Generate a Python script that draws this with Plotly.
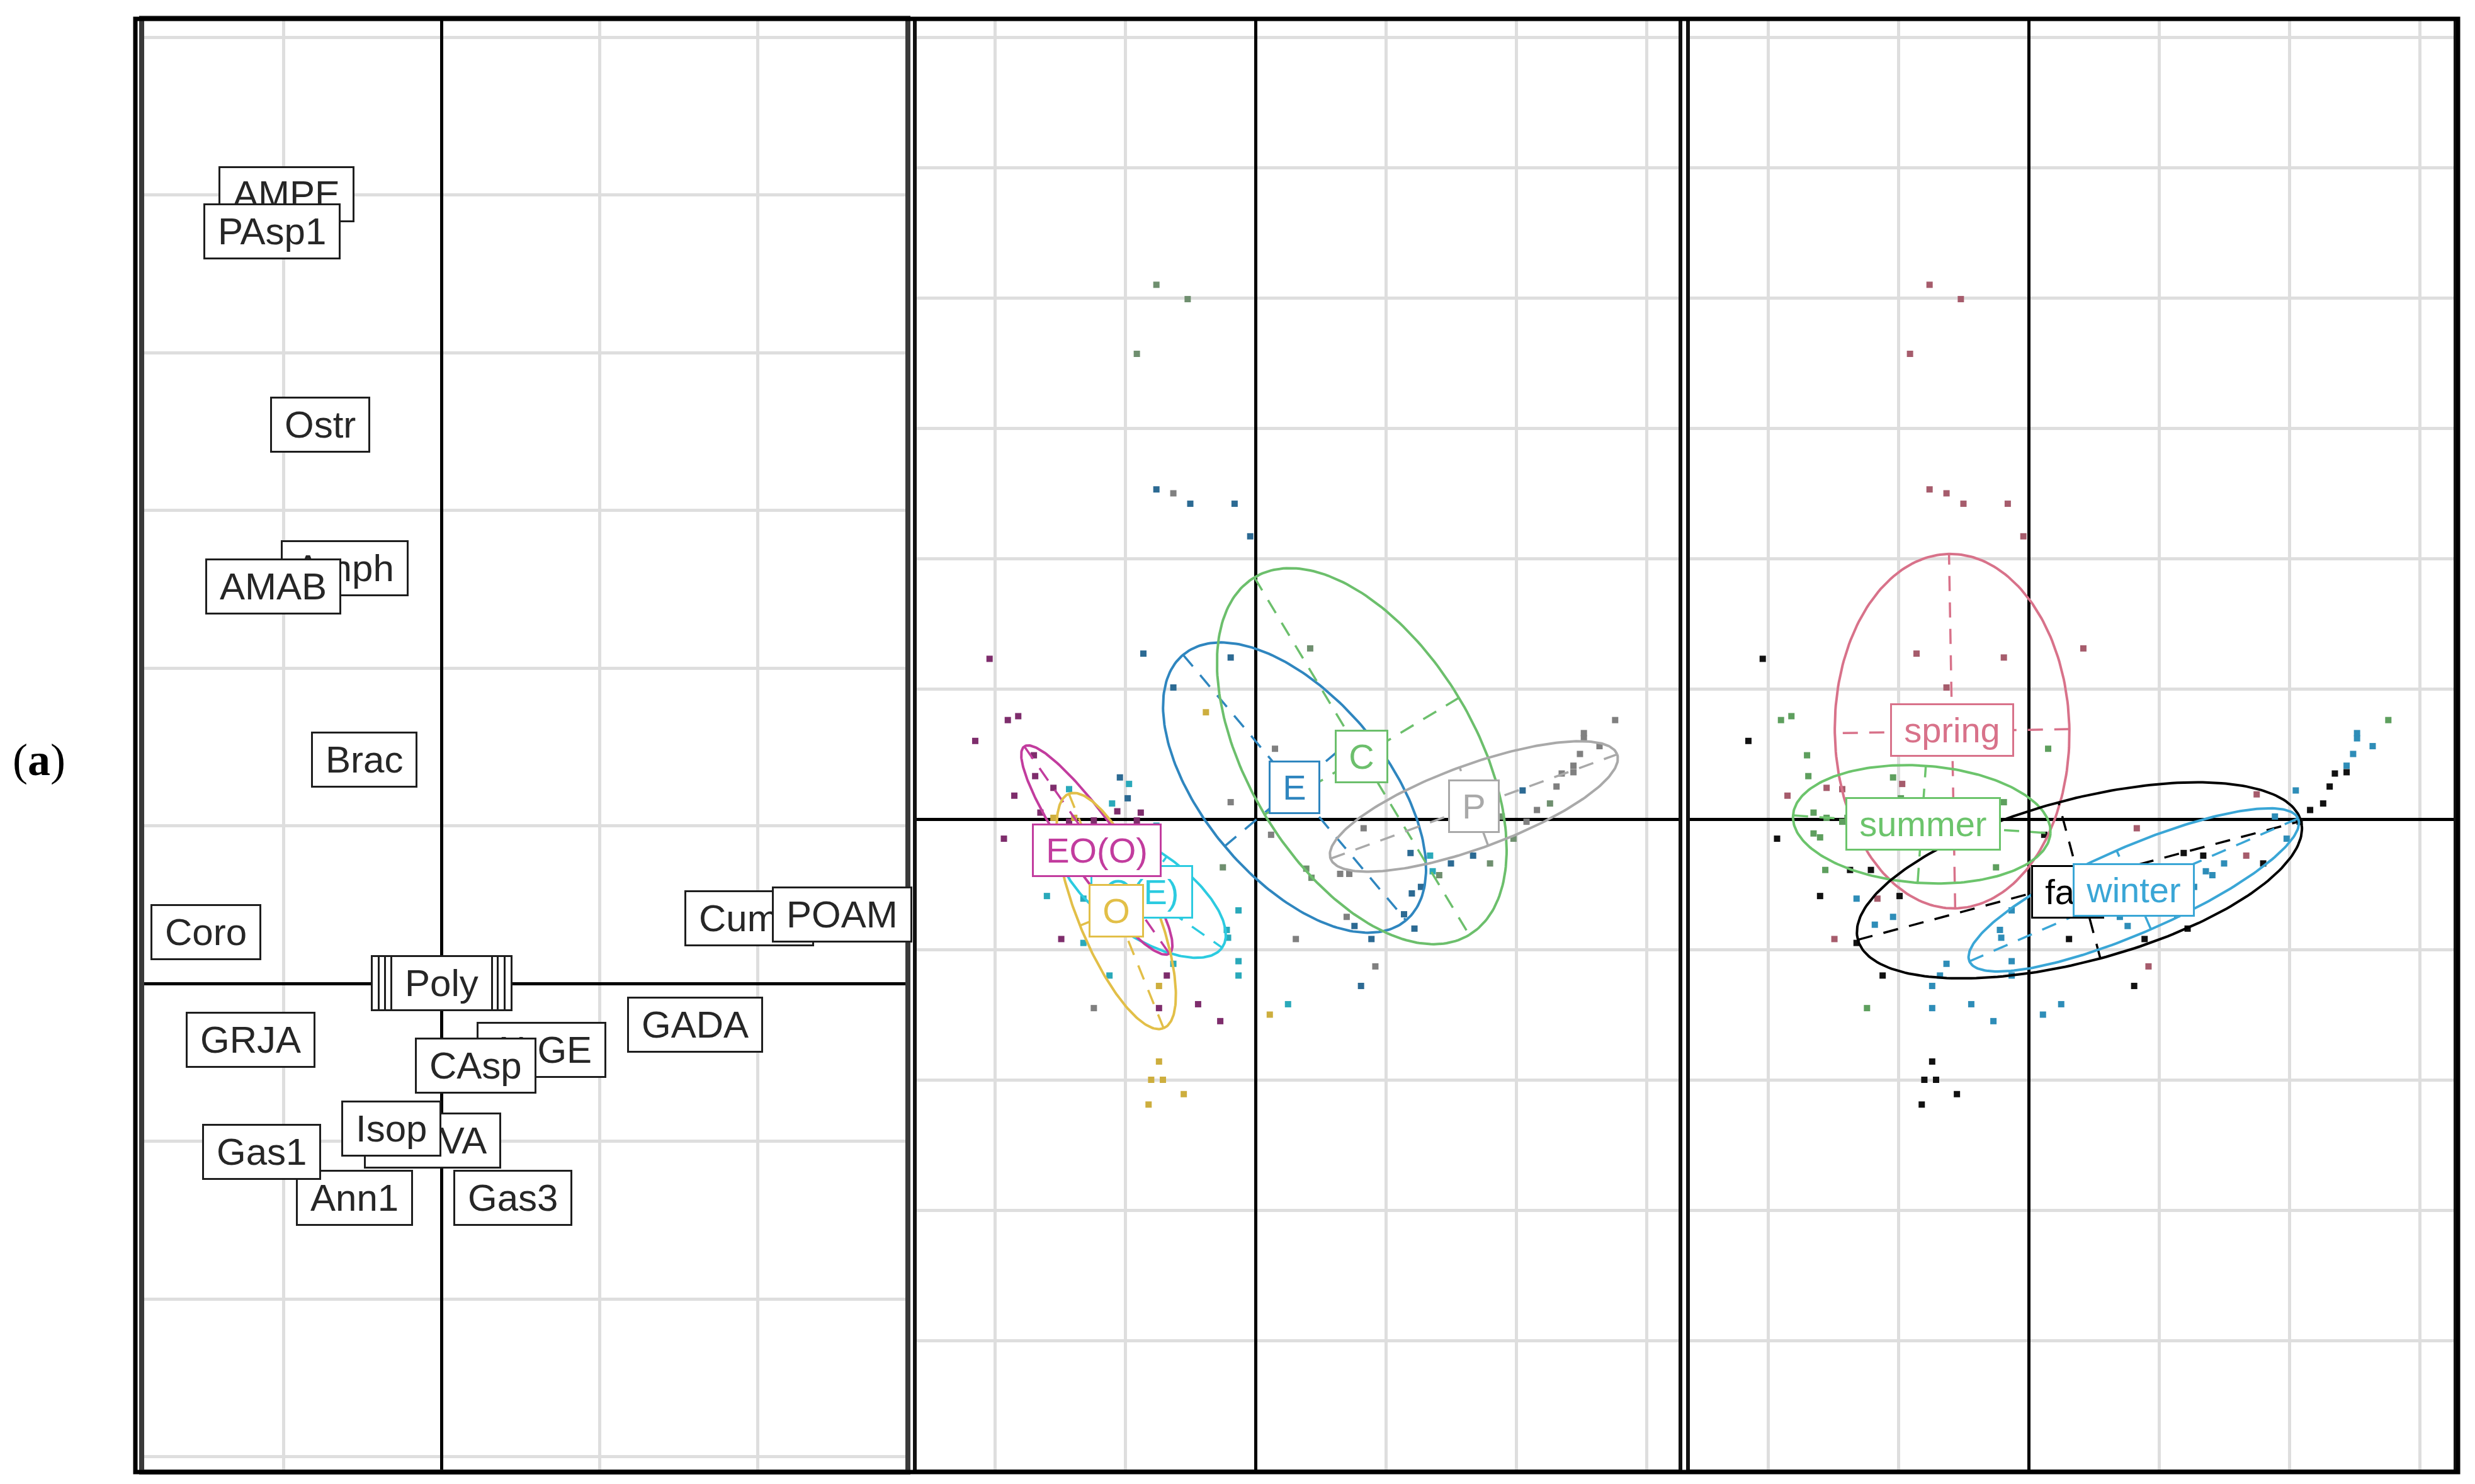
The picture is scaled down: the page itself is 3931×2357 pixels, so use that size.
import numpy as np
import plotly.graph_objects as go

W, H = 3931, 2357

# ---------------- DATA ----------------
# Left panel: species labels (grid units, origin at axes cross)
SPECIES = ["AMPE", "PAsp1", "Ostr", "Amph", "AMAB", "Brac", "Coro", "Cuma", "POAM",
           "Poly", "GRJA", "ALGE", "CAsp", "GADA", "MOVA", "Isop", "Ann1", "Gas1", "Gas3"]
SPECIES_X = [-0.980, -1.072, -0.765, -0.610, -1.064, -0.490, -1.490, 1.948, 2.534,
             0.000, -1.207, 0.633, 0.219, 1.606, -0.056, -0.315, -0.550, -1.139, 0.454]
SPECIES_Y = [5.006, 4.770, 3.541, 2.631, 2.515, 1.421, 0.327, 0.415, 0.439,
             0.004, -0.359, -0.423, -0.519, -0.263, -0.994, -0.922, -1.361, -1.066, -1.361]

# Sites (shared by middle and right panels)
SITE_X = [-1.82, -1.90, -2.15, -1.85, -1.93, -1.69, -1.70, -1.55, -1.43, -1.04,
          -0.97, -0.98, -1.10, -0.88, -1.06, -1.55, -1.39, -1.24, -1.43, -0.91,
          -0.76, -1.65, -1.65, -1.60, -1.56, -1.37, -1.21, -0.38, -0.63, -0.19,
          -1.60, -1.32, -1.16, -0.99, -1.18, -1.04, -1.49, -1.32, -1.12, -1.24,
          -0.68, -0.74, -0.63, -0.74, -0.44, -0.27, 0.11, 0.25, -0.22, -0.21,
          -0.13, -0.13, -0.13, -0.25, 0.12, 0.31, 0.70, 0.89, 1.22, 1.20,
          1.19, 0.43, 0.39, 0.15, 0.65, 0.72, -0.74, -0.80, -0.71, -0.55,
          -0.82, 0.81, 1.14, 1.27, 1.34, 1.36, 1.41, 1.50, 1.67, 1.80,
          1.98, 1.89, 2.08, 2.05, 2.16, 2.26, 2.31, 2.35, 2.44, 2.44,
          2.49, 2.64, 2.52, 2.52, 2.76, 0.42, -0.19, -0.86, 0.83, 1.75,
          0.92, 0.76, -0.76, -0.52, -0.91, -0.76, -0.63, -0.50, -0.16, -0.04,
          -2.04]
SITE_Y = [0.79, 0.76, 0.60, 0.18, -0.15, 0.33, 0.49, 0.24, 0.23, 0.32,
          0.27, 0.16, 0.12, 0.05, 0.06, 0.01, 0.01, -0.01, -0.02, -0.01,
          -0.05, 0.05, -0.11, -0.14, -0.39, -0.39, -0.39, 0.82, 1.01, 0.13,
          -0.59, -0.61, -0.61, -0.59, -0.81, -0.75, -0.92, -0.95, -1.20, -1.45,
          -1.20, -1.28, -1.11, -1.45, -1.42, -1.55, -1.50, -1.42, -0.85, -0.91,
          -0.70, -1.09, -1.20, -0.37, -0.12, -0.92, -0.75, -0.92, -0.84, -0.57,
          -0.26, -0.45, -0.38, 0.54, -0.42, -0.42, -1.86, -2.00, -2.00, -2.11,
          -2.19, -1.28, -0.73, -0.52, -0.28, -0.40, -0.43, -0.34, -0.28, -0.34,
          -0.15, 0.02, -0.02, 0.22, 0.07, 0.12, 0.25, 0.35, 0.36, 0.41,
          0.50, 0.56, 0.62, 0.66, 0.76, 1.31, 1.24, 1.27, -0.07, 0.19,
          -1.13, -0.82, 4.10, 3.99, 3.57, 2.53, 2.50, 2.42, 2.42, 2.17,
          1.23]
SITE_HAB = ["EO(O)", "EO(O)", "EO(O)", "EO(O)", "EO(O)", "EO(O)", "EO(O)", "EO(O)", "O(E)", "E",
            "O(E)", "E", "O(E)", "EO(O)", "EO(O)", "O", "O", "EO(O)", "EO(O)", "EO(O)",
            "O(E)", "EO(O)", "EO(O)", "EO(O)", "EO(O)", "EO(O)", "EO(O)", "O", "E", "P",
            "O(E)", "O(E)", "O", "O", "O", "O", "EO(O)", "O(E)", "O(E)", "P",
            "EO(O)", "O", "O(E)", "EO(O)", "EO(O)", "EO(O)", "O", "O(E)", "O(E)", "O(E)",
            "O(E)", "O(E)", "O(E)", "C", "P", "P", "P", "E", "E", "E",
            "E", "C", "C", "P", "P", "P", "O", "O", "O", "O",
            "O", "E", "E", "E", "O(E)", "O(E)", "C", "E", "E", "C",
            "C", "C", "P", "E", "P", "C", "P", "P", "P", "P",
            "P", "P", "P", "P", "P", "C", "E", "E", "P", "P",
            "P", "E", "C", "C", "C", "E", "P", "E", "E", "E",
            "EO(O)"]
SITE_SEASON = ["summer", "summer", "fall", "spring", "fall", "summer", "summer", "spring", "spring", "summer",
               "spring", "summer", "summer", "summer", "summer", "summer", "summer", "summer", "summer", "summer",
               "summer", "summer", "summer", "summer", "summer", "fall", "fall", "spring", "spring", "summer",
               "fall", "winter", "spring", "fall", "winter", "winter", "spring", "fall", "fall", "summer",
               "winter", "winter", "winter", "winter", "winter", "winter", "winter", "winter", "winter", "winter",
               "winter", "winter", "winter", "summer", "fall", "fall", "winter", "fall", "fall", "winter",
               "fall", "winter", "fall", "summer", "winter", "winter", "fall", "fall", "fall", "fall",
               "fall", "fall", "winter", "winter", "fall", "winter", "winter", "winter", "spring", "fall",
               "winter", "winter", "fall", "winter", "fall", "fall", "fall", "fall", "fall", "winter",
               "winter", "winter", "winter", "winter", "summer", "spring", "spring", "spring", "spring", "spring",
               "spring", "winter", "spring", "spring", "spring", "spring", "spring", "spring", "spring", "spring",
               "fall"]

# Habitat groups (middle panel), in drawing order
HABITATS = ["O(E)", "EO(O)", "O", "E", "C", "P"]
HAB_CX = [-0.87, -1.217, -1.068, 0.30, 0.816, 1.676]
HAB_CY = [-0.556, -0.237, -0.705, 0.242, 0.483, 0.097]
HAB_A = [0.75, 0.97, 0.97, 1.33, 1.60, 1.17]
HAB_B = [0.33, 0.20, 0.30, 0.70, 0.87, 0.32]
HAB_ANGLE = [-35, -55, -68, -50, -59, 20]
HAB_LABEL_X = [-0.87, -1.217, -1.068, 0.300, 0.816, 1.676]
HAB_LABEL_Y = [-0.556, -0.237, -0.705, 0.242, 0.483, 0.097]

# Season groups (right panel)
SEASONS = ["spring", "summer", "fall", "winter"]
SEA_CX = [-0.587, -0.82, 0.39, 0.807]
SEA_CY = [0.675, -0.04, -0.47, -0.543]
SEA_A = [1.36, 0.99, 1.76, 1.375]
SEA_B = [0.90, 0.45, 0.62, 0.33]
SEA_ANGLE = [91, -4, 15, 23.5]
SEA_LABEL_X = [-0.587, -0.807, 0.30, 0.807]
SEA_LABEL_Y = [0.684, -0.036, -0.556, -0.543]

# ---------------- STYLE ----------------
HAB_LINE = {"C": "#6CBF6C", "E": "#2F86BF", "EO(O)": "#C23C9E", "O": "#E2BF48",
            "O(E)": "#2CCBE0", "P": "#A9A9A9"}
HAB_PT = {"C": "#6F8F6F", "E": "#2C6A93", "EO(O)": "#7E2D6C", "O": "#CDAE3E",
          "O(E)": "#2AA9BA", "P": "#808080"}
SEA_LINE = {"spring": "#D8728A", "summer": "#6CC46C", "fall": "#000000", "winter": "#3AA6D6"}
SEA_PT = {"spring": "#A65C6C", "summer": "#5E9F5E", "fall": "#111111", "winter": "#2E8DB8"}

GRID = "#DEDEDE"
FONT = "Liberation Sans, Arial, sans-serif"
TS = "\u2009"


def px2paper_x(p):
    return p / W


def px2paper_y(p):
    return 1 - p / H


def ellipse_xy(cx, cy, a, b, ang):
    t = np.linspace(0, 2 * np.pi, 241)
    th = np.radians(ang)
    x = cx + a * np.cos(t) * np.cos(th) - b * np.sin(t) * np.sin(th)
    y = cy + a * np.cos(t) * np.sin(th) + b * np.sin(t) * np.cos(th)
    return x, y


def axes_xy(cx, cy, a, b, ang):
    th = np.radians(ang)
    ux, uy = np.cos(th), np.sin(th)
    vx, vy = -np.sin(th), np.cos(th)
    xs = [cx - a * ux, cx + a * ux, None, cx - b * vx, cx + b * vx]
    ys = [cy - a * uy, cy + a * uy, None, cy - b * vy, cy + b * vy]
    return xs, ys


fig = go.Figure()

# ---- middle panel: sites by habitat ----
for h in HABITATS:
    xs = [x for x, g in zip(SITE_X, SITE_HAB) if g == h]
    ys = [y for y, g in zip(SITE_Y, SITE_HAB) if g == h]
    fig.add_trace(go.Scatter(x=xs, y=ys, mode="markers", xaxis="x2", yaxis="y2",
                             marker=dict(symbol="square", size=10, color=HAB_PT[h], line=dict(width=0)),
                             showlegend=False, hoverinfo="skip"))
for i, h in enumerate(HABITATS):
    ex, ey = ellipse_xy(HAB_CX[i], HAB_CY[i], HAB_A[i], HAB_B[i], HAB_ANGLE[i])
    fig.add_trace(go.Scatter(x=ex, y=ey, mode="lines", xaxis="x2", yaxis="y2",
                             line=dict(color=HAB_LINE[h], width=4), showlegend=False, hoverinfo="skip"))
    ax_, ay_ = axes_xy(HAB_CX[i], HAB_CY[i], HAB_A[i], HAB_B[i], HAB_ANGLE[i])
    fig.add_trace(go.Scatter(x=ax_, y=ay_, mode="lines", xaxis="x2", yaxis="y2",
                             line=dict(color=HAB_LINE[h], width=3.5, dash="24px,18px"),
                             showlegend=False, hoverinfo="skip"))

# ---- right panel: sites by season ----
for s in SEASONS:
    xs = [x for x, g in zip(SITE_X, SITE_SEASON) if g == s]
    ys = [y for y, g in zip(SITE_Y, SITE_SEASON) if g == s]
    fig.add_trace(go.Scatter(x=xs, y=ys, mode="markers", xaxis="x3", yaxis="y3",
                             marker=dict(symbol="square", size=10, color=SEA_PT[s], line=dict(width=0)),
                             showlegend=False, hoverinfo="skip"))
for i, s in enumerate(SEASONS):
    ex, ey = ellipse_xy(SEA_CX[i], SEA_CY[i], SEA_A[i], SEA_B[i], SEA_ANGLE[i])
    fig.add_trace(go.Scatter(x=ex, y=ey, mode="lines", xaxis="x3", yaxis="y3",
                             line=dict(color=SEA_LINE[s], width=4), showlegend=False, hoverinfo="skip"))
    ax_, ay_ = axes_xy(SEA_CX[i], SEA_CY[i], SEA_A[i], SEA_B[i], SEA_ANGLE[i])
    fig.add_trace(go.Scatter(x=ax_, y=ay_, mode="lines", xaxis="x3", yaxis="y3",
                             line=dict(color=SEA_LINE[s], width=3.5, dash="24px,18px"),
                             showlegend=False, hoverinfo="skip"))

# ---------------- annotations ----------------
ann = []


def box(text, x, y, xref, yref, color, size, textcolor=None, width=None, pad=8, bw=3):
    d = dict(text=TS + text + TS, x=x, y=y, xref=xref, yref=yref, showarrow=False,
             font=dict(family=FONT, size=size, color=textcolor or color),
             bgcolor="white", bordercolor=color, borderwidth=bw, borderpad=pad,
             xanchor="center", yanchor="middle")
    if width is not None:
        d["width"] = width
    return d


LEFT_TXT = "#262626"
LEFT_BOX = "#1E1E1E"
for name, x, y in zip(SPECIES, SPECIES_X, SPECIES_Y):
    if name == "Poly":
        # several labels stacked at the origin beneath "Poly"
        for wdt in (203, 181, 160):
            ann.append(box("", x, y, "x", "y", LEFT_BOX, 60, LEFT_TXT, width=wdt))
    ann.append(box(name, x, y, "x", "y", LEFT_BOX, 60, LEFT_TXT))

for i, h in enumerate(HABITATS):
    ann.append(box(h, HAB_LABEL_X[i], HAB_LABEL_Y[i], "x2", "y2", HAB_LINE[h], 56))

for i, s in enumerate(SEASONS):
    ann.append(box(s, SEA_LABEL_X[i], SEA_LABEL_Y[i], "x3", "y3", SEA_LINE[s], 56))

ann.append(dict(text="(<b>a</b>)", x=px2paper_x(62), y=px2paper_y(1207), xref="paper", yref="paper",
                showarrow=False, xanchor="center", yanchor="middle",
                font=dict(family="Liberation Serif, Times New Roman, serif", size=72, color="black")))


def axis(dom_px, origin_px, unit_px, anchor, lc, lw, vertical=False):
    a0, a1 = dom_px
    if vertical:
        dom = [px2paper_y(a1), px2paper_y(a0)]
        rng = [(origin_px - a1) / unit_px, (origin_px - a0) / unit_px]
    else:
        dom = [px2paper_x(a0), px2paper_x(a1)]
        rng = [(a0 - origin_px) / unit_px, (a1 - origin_px) / unit_px]
    return dict(domain=dom, range=rng, anchor=anchor, showgrid=True, gridcolor=GRID, gridwidth=5,
                tick0=0, dtick=1, zeroline=True, zerolinecolor="black", zerolinewidth=5,
                showline=True, mirror=True, linecolor=lc, linewidth=lw,
                showticklabels=False, ticks="", fixedrange=True)


TOP, BOT = 33, 2334
layout = dict(
    width=W, height=H, autosize=False,
    margin=dict(l=0, r=0, t=0, b=0, pad=0),
    paper_bgcolor="white", plot_bgcolor="white",
    showlegend=False,
    xaxis=axis((229, 1438), 701, 251, "y", "#3A3A3A", 8),
    yaxis=axis((TOP, BOT), 1562, 250.5, "x", "#3A3A3A", 8, vertical=True),
    xaxis2=axis((1456, 2666), 1994, 207, "y2", "#111111", 6),
    yaxis2=axis((TOP, BOT), 1301, 207, "x2", "#111111", 6, vertical=True),
    xaxis3=axis((2684, 3897), 3222, 207, "y3", "#111111", 6),
    yaxis3=axis((TOP, BOT), 1301, 207, "x3", "#111111", 6, vertical=True),
    annotations=ann,
    shapes=[dict(type="rect", xref="paper", yref="paper",
                 x0=px2paper_x(215), x1=px2paper_x(3904), y0=px2paper_y(2338), y1=px2paper_y(30),
                 line=dict(color="black", width=7), fillcolor="rgba(0,0,0,0)", layer="above")],
)
fig.update_layout(**layout)

fig.write_html("out.html", config={"displayModeBar": False},
               post_script="document.body.style.margin='0px';document.body.style.padding='0px';"
                           "document.body.style.overflow='hidden';")
